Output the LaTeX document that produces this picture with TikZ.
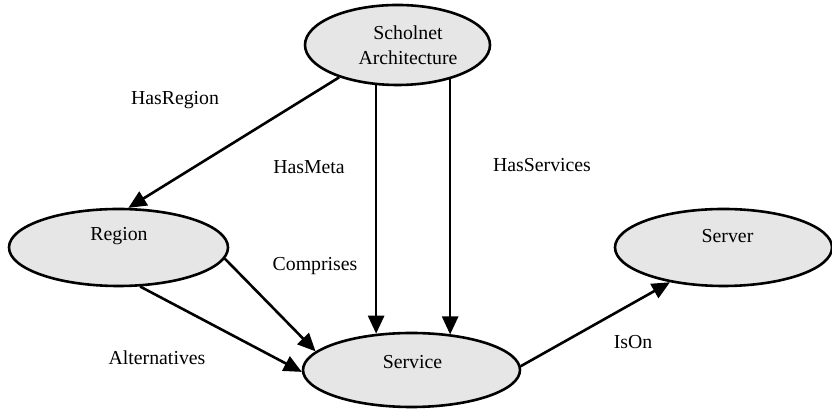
\documentclass[tikz,border=0pt]{standalone}
\usepackage{fontspec}
\setmainfont{Liberation Serif}
\usetikzlibrary{shapes.geometric,arrows.meta}
\definecolor{nodefill}{HTML}{E6E6E6}
\begin{document}
\begin{tikzpicture}[x=1pt,y=1pt,
  ell/.style={ellipse,draw=black,line width=2.6pt,fill=nodefill,inner sep=0pt},
  txt/.style={font=\fontsize{19.8}{25}\selectfont,inner sep=0pt,align=center},
  conn/.style={line width=2.6pt,-{Triangle[length=18pt,width=16pt]}}]
\useasboundingbox (0,0) rectangle (832,411);
% ellipses
\node[ell,minimum width=185pt,minimum height=80pt] (sch) at (397.5,366) {};
\node[ell,minimum width=219pt,minimum height=77pt] (reg) at (118.5,163.5) {};
\node[ell,minimum width=217pt,minimum height=77pt] (srv) at (723.5,163.5) {};
\node[ell,minimum width=217pt,minimum height=74pt] (svc) at (411.5,41) {};
% node texts
\node[txt] (schT) at (408,366) {Scholnet\\Architecture};
\node[txt] (regT) at (119,175) {Region};
\node[txt] (srvT) at (727.5,175) {Server};
\node[txt] (svcT) at (412.5,49) {Service};
% connectors
\draw[conn] (sch.209.9) -- (reg.76.1);
\draw[conn] (sch.242.3) -- (sch.242.3 |- svc.134.5);
\draw[conn] (sch.327.9) -- (sch.327.9 |- svc.41.9);
\draw[conn] (reg.354.3) -- (svc.169.5);
\draw[conn] (reg.299.2) -- (svc.181.6);
\draw[conn] (svc.2.6) -- (srv.213.6);
% edge labels
\node[txt] (lHasRegion) at (175,311) {HasRegion};
\node[txt] (lHasMeta) at (309,244) {HasMeta};
\node[txt] (lHasServices) at (542,246) {HasServices};
\node[txt] (lComprises) at (315,145) {Comprises};
\node[txt] (lAlternatives) at (157,53) {Alternatives};
\node[txt] (lIsOn) at (633,69) {IsOn};
\end{tikzpicture}
\end{document}
